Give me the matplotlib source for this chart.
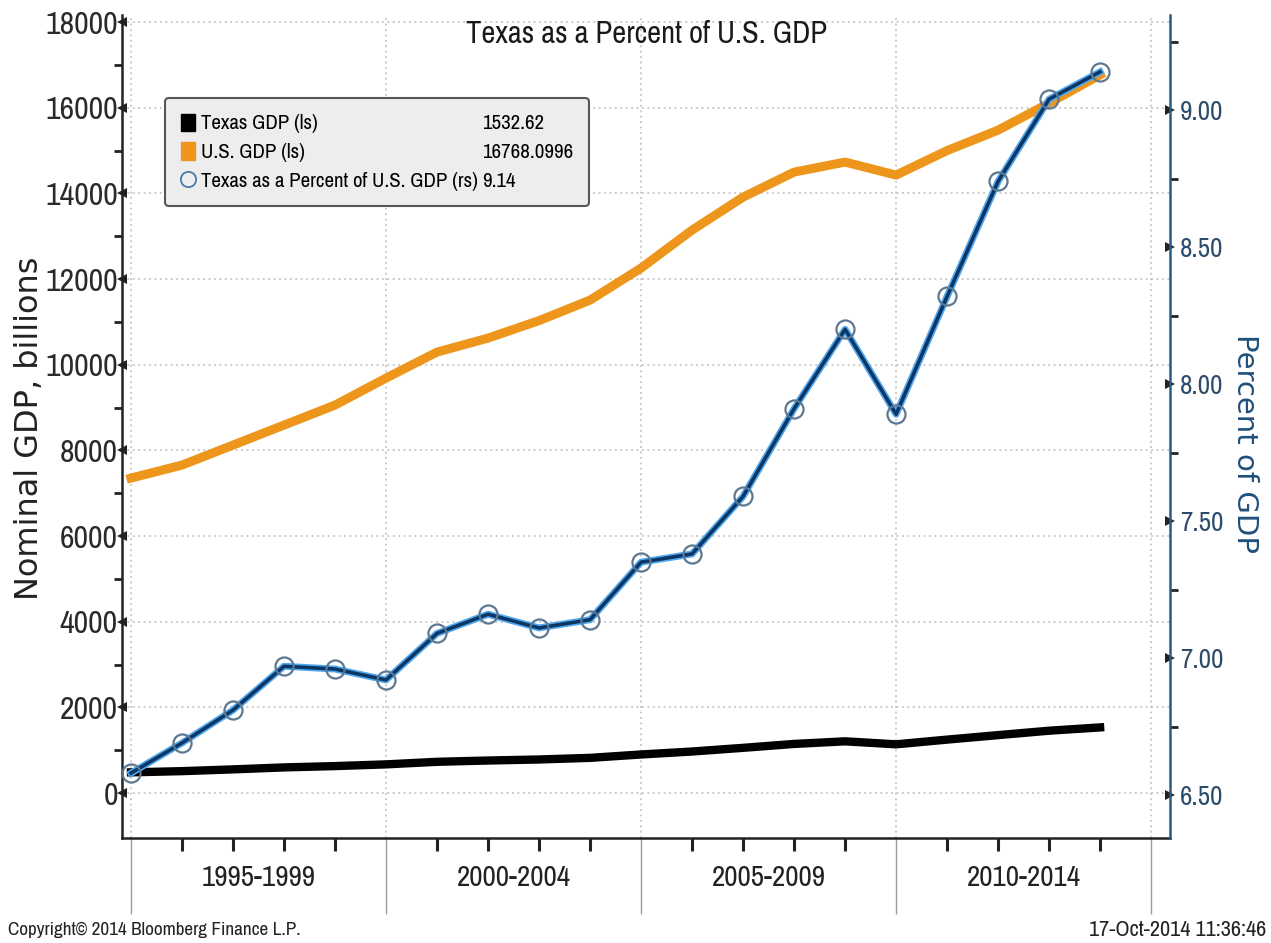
import numpy as np
import matplotlib
matplotlib.use("Agg")
import matplotlib.pyplot as plt
import matplotlib.patheffects as pe
from matplotlib.lines import Line2D
from matplotlib.patches import Patch
from matplotlib.transforms import blended_transform_factory
from matplotlib import font_manager

# ---------------- data ----------------
years = list(range(1994, 2014))
us_gdp = [7354, 7657, 8124, 8591, 9058, 9688, 10295, 10622, 11030, 11509,
          12256, 13143, 13913, 14497, 14731, 14428, 15000, 15477, 16108, 16768]
texas_gdp = [484, 512, 553, 599, 630, 670, 730, 760, 784, 822,
             901, 970, 1056, 1147, 1208, 1138, 1248, 1353, 1456, 1533]
texas_pct = [6.58, 6.69, 6.81, 6.97, 6.96, 6.92, 7.09, 7.16, 7.11, 7.14,
             7.35, 7.38, 7.59, 7.91, 8.20, 7.89, 8.32, 8.74, 9.04, 9.14]
period_labels = ['1995-1999', '2000-2004', '2005-2009', '2010-2014']
legend_labels = ['Texas GDP (ls)', 'U.S. GDP (ls)', 'Texas as a Percent of U.S. GDP (rs)']
legend_values = ['1532.62', '16768.0996', '9.14']
left_ticks = list(range(0, 18001, 2000))
right_ticks = [6.50, 7.00, 7.50, 8.00, 8.50, 9.00]

# ------------- find a condensed font -------------
narrow_family, narrow_stretch, scale = 'DejaVu Sans', 'normal', 0.78
for f in font_manager.fontManager.ttflist:
    if 'Narrow' in f.name:
        narrow_family, narrow_stretch, scale = f.name, 'normal', 1.0
        break
else:
    for f in font_manager.fontManager.ttflist:
        if f.name == 'DejaVu Sans' and f.stretch == 'condensed':
            narrow_family, narrow_stretch, scale = 'DejaVu Sans', 'condensed', 0.86
            break


def nfont(size):
    return font_manager.FontProperties(family=narrow_family, stretch=narrow_stretch,
                                       size=size * scale)


ORANGE = '#EE961C'
NAVY = '#0b3766'
HALO = '#52a8ee'
RBLUE = '#2a5a86'

fig = plt.figure(figsize=(12.71, 9.43), dpi=100)
ax = fig.add_axes([122 / 1271, 0.1113, (1170 - 122) / 1271, 0.8727])
x = np.arange(len(years))
XLIM = (-0.176, 20.37)

ax.plot(x, us_gdp, color=ORANGE, lw=6.5, solid_joinstyle='round', zorder=3)
ax.plot(x, texas_gdp, color='black', lw=6, solid_joinstyle='round', zorder=3)
ax.set_xlim(*XLIM)
ax.set_ylim(-1050, 18163)

ax2 = ax.twinx()
ax2.plot(x, texas_pct, color=NAVY, lw=2.6, zorder=4,
         path_effects=[pe.Stroke(linewidth=5.0, foreground=HALO), pe.Normal()])
ax2.plot(x, texas_pct, linestyle='none', marker='o', ms=13, mfc='none',
         mec='#5d7890', mew=1.6, zorder=5)
ax2.set_ylim(6.343, 9.347)
ax2.set_xlim(*XLIM)

# ticks & grid
ax.set_yticks(left_ticks)
ax.set_yticks(list(range(1000, 18000, 2000)), minor=True)
ax.set_yticklabels([str(v) for v in left_ticks], fontproperties=nfont(23))
ax.grid(True, which='major', axis='y', color='#c4c4c4', linestyle=(0, (1, 2)), lw=1.3)
ax.set_xticks([0, 5, 10, 15, 20])
ax.set_xticks(x, minor=True)
ax.set_xticklabels([])
ax.grid(True, which='major', axis='x', color='#c4c4c4', linestyle=(0, (1, 2)), lw=1.3)
ax.set_axisbelow(True)

ax.tick_params(axis='y', which='major', length=0, pad=3, colors='#2a2a2a')
ax.tick_params(axis='y', which='minor', length=6, width=2, color='#222222')
ax.tick_params(axis='x', which='major', length=55, width=1, color='#9a9a9a')
ax.tick_params(axis='x', which='minor', length=9, width=2.2, color='#222222')
for t in ax.yaxis.get_major_ticks():
    t.tick1line.set_marker('<')
    t.tick1line.set_markersize(7)
    t.tick1line.set_markeredgewidth(0)
    t.tick1line.set_markerfacecolor('#222222')

ax2.set_yticks(right_ticks)
ax2.set_yticks([6.75, 7.25, 7.75, 8.25, 8.75, 9.25], minor=True)
ax2.set_yticklabels(['%.2f' % v for v in right_ticks], fontproperties=nfont(19.5),
                    color='#2d4c6c')
ax2.tick_params(axis='y', which='major', length=0, pad=7)
ax2.tick_params(axis='y', which='minor', length=6, width=2, color='#222222')
for t in ax2.yaxis.get_major_ticks():
    t.tick2line.set_marker('>')
    t.tick2line.set_markersize(7)
    t.tick2line.set_markeredgewidth(0)
    t.tick2line.set_markerfacecolor('#222222')

for a in (ax, ax2):
    a.spines['top'].set_visible(False)
ax.spines['left'].set_color('#222222')
ax.spines['left'].set_linewidth(1.8)
ax.spines['bottom'].set_color('#222222')
ax.spines['bottom'].set_linewidth(1.8)
ax2.spines['left'].set_visible(False)
ax2.spines['bottom'].set_visible(False)
ax2.spines['right'].set_color(RBLUE)
ax2.spines['right'].set_linewidth(1.8)
ax.spines['right'].set_visible(False)

# period labels
trans = blended_transform_factory(ax.transData, fig.transFigure)
for i, lab in enumerate(period_labels):
    ax.text(5 * i + 2.5, 1 - 878 / 943, lab, transform=trans, ha='center', va='center',
            fontproperties=nfont(21), color='#222222')

# axis labels
fig.text(30 / 1271, 1 - 428 / 943, 'Nominal GDP, billions', rotation=90, ha='center',
         va='center', fontsize=23, color='#222222', fontfamily='DejaVu Sans')
fig.text(1245 / 1271, 1 - 443 / 943, 'Percent of GDP', rotation=270, ha='center',
         va='center', fontsize=21, color='#1f4f7c', fontfamily='DejaVu Sans')

# title
fig.text(647 / 1271, 1 - 34 / 943, 'Texas as a Percent of U.S. GDP', ha='center',
         va='center', color='#1a1a1a', fontproperties=nfont(22))

# footer
fig.text(8 / 1271, 1 - 930 / 943, 'Copyright\u00a9 2014 Bloomberg Finance L.P.', ha='left',
         va='center', color='#222222', fontproperties=nfont(13.8))
fig.text(1266 / 1271, 1 - 930 / 943, '17-Oct-2014 11:36:46', ha='right',
         va='center', color='#222222', fontproperties=nfont(16))

# legend
handles = [Patch(facecolor='black', edgecolor='black'),
           Patch(facecolor=ORANGE, edgecolor=ORANGE),
           Line2D([], [], linestyle='none', marker='o', ms=11, mfc='none', mec='#4a7aa8', mew=1.3),
           Line2D([], [], linestyle='none'), Line2D([], [], linestyle='none'),
           Line2D([], [], linestyle='none')]
leg = ax2.legend(handles, legend_labels + legend_values, ncol=2,
                 loc='upper left', bbox_to_anchor=(165 / 1271, 1 - 98 / 943),
                 bbox_transform=fig.transFigure, borderaxespad=0,
                 prop=nfont(15), handlelength=0.7, handleheight=0.9,
                 handletextpad=0.3, columnspacing=-0.8, labelspacing=0.42,
                 borderpad=0.75, frameon=True, fancybox=True, framealpha=1)
leg.get_frame().set_facecolor('#ededed')
leg.get_frame().set_edgecolor('#555555')
leg.get_frame().set_linewidth(1.5)

fig.savefig('out.png', dpi=100, facecolor='white')
